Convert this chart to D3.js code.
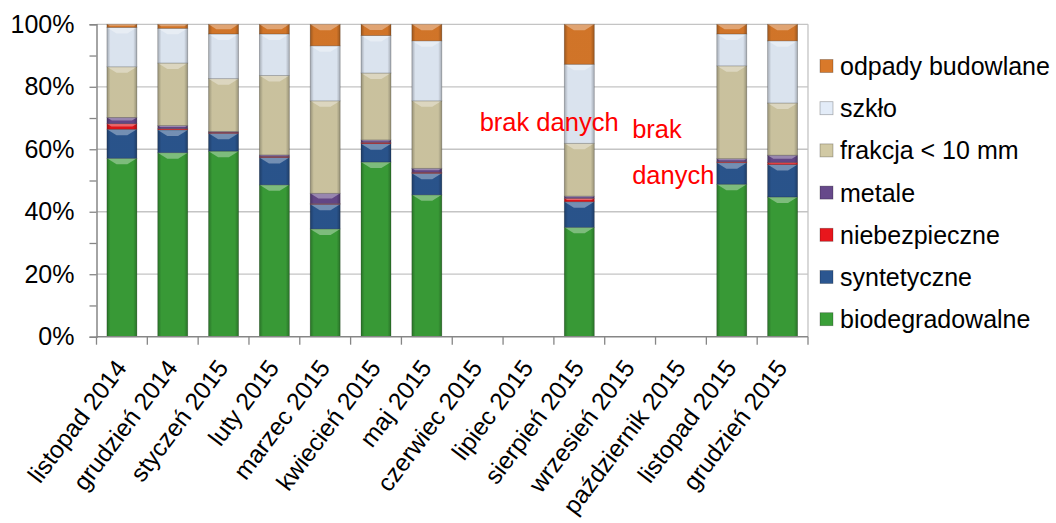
<!DOCTYPE html>
<html>
<head>
<meta charset="utf-8">
<script src="https://cdn.jsdelivr.net/npm/d3@7/dist/d3.min.js"></script>
<style>
  body { margin: 0; background: #fff; }
  text { font-family: "Liberation Sans", Arial, sans-serif; }
</style>
</head>
<body>
<div id="chart-area"></div>
<script>
// categories (months)
var categories = ["listopad 2014", "grudzień 2014", "styczeń 2015", "luty 2015", "marzec 2015",
  "kwiecień 2015", "maj 2015", "czerwiec 2015", "lipiec 2015", "sierpień 2015",
  "wrzesień 2015", "październik 2015", "listopad 2015", "grudzień 2015"];

// shares in % (null = brak danych)
var biodegradowalne = [57.1, 58.9, 59.4, 48.6, 34.5, 55.9, 45.4, null, null, 35.0, null, null, 48.8, 44.7];
var syntetyczne     = [9.3, 7.3, 5.7, 8.8, 7.9, 5.9, 6.9, null, null, 8.2, null, null, 6.9, 10.4];
var niebezpieczne   = [1.8, 0.4, 0.3, 0.3, 0.2, 0.4, 0.3, null, null, 1.1, null, null, 0.3, 0.7];
var metale          = [2.0, 1.0, 0.3, 0.5, 3.3, 0.8, 1.3, null, null, 0.7, null, null, 1.0, 2.3];
var frakcja         = [16.2, 20.0, 16.9, 25.4, 29.6, 21.4, 21.6, null, null, 16.9, null, null, 29.7, 16.7];
var szklo           = [12.6, 11.1, 14.3, 13.3, 17.6, 12.0, 19.2, null, null, 25.3, null, null, 10.2, 19.9];
var odpady          = [1.0, 1.3, 3.1, 3.1, 6.9, 3.6, 5.3, null, null, 12.8, null, null, 3.1, 5.3];

var seriesNames = ["biodegradowalne", "syntetyczne", "niebezpieczne", "metale", "frakcja < 10 mm", "szkło", "odpady budowlane"];
var seriesValues = [biodegradowalne, syntetyczne, niebezpieczne, metale, frakcja, szklo, odpady];
var seriesColors = ["#3a9f38", "#2b5690", "#e8161c", "#66498a", "#d1c9a4", "#e3ecf8", "#d9792a"];

var yTicks = [0, 0.2, 0.4, 0.6, 0.8, 1];

// annotation for missing months
var notes = [
  { cat: "czerwiec 2015", lines: ["brak danych"], at: 0.658 },
  { cat: "wrzesień 2015", lines: ["brak", "danych"], at: 0.636 }
];

var svgW = 1056, svgH = 523;
var margin = { left: 96.5, top: 24.3, right: 248, bottom: 186.3 };
var width = svgW - margin.left - margin.right;
var height = svgH - margin.top - margin.bottom;

var rows = categories.map(function(c, i) {
  var r = { cat: c };
  seriesNames.forEach(function(s, j) { r[s] = seriesValues[j][i] || 0; });
  return r;
});

var stack = d3.stack().keys(seriesNames).offset(d3.stackOffsetExpand);
var stacked = stack(rows);

var svg = d3.select("#chart-area").append("svg")
  .attr("width", svgW)
  .attr("height", svgH);

var defs = svg.append("defs");
// darker edges for a bevel look
var edge = defs.append("linearGradient").attr("id", "edge")
  .attr("x1", 0).attr("x2", 1).attr("y1", 0).attr("y2", 0);
edge.append("stop").attr("offset", 0).attr("stop-color", "#000").attr("stop-opacity", 0.28);
edge.append("stop").attr("offset", 0.12).attr("stop-color", "#000").attr("stop-opacity", 0.04);
edge.append("stop").attr("offset", 0.88).attr("stop-color", "#000").attr("stop-opacity", 0.04);
edge.append("stop").attr("offset", 1).attr("stop-color", "#000").attr("stop-opacity", 0.28);

var g = svg.append("g")
  .attr("transform", "translate(" + margin.left + "," + margin.top + ")");

var x = d3.scaleBand()
  .domain(categories)
  .range([0, width])
  .paddingInner(0.41)
  .paddingOuter(0.205);

var y = d3.scaleLinear().domain([0, 1]).range([height, 0]);

// gridlines + plot border
g.selectAll(".grid").data(yTicks.slice(1))
  .enter().append("line")
  .attr("x1", 0).attr("x2", width)
  .attr("y1", function(d) { return y(d); })
  .attr("y2", function(d) { return y(d); })
  .attr("stroke", "#c4c4c4").attr("stroke-width", 1.3);
g.append("line")
  .attr("x1", width).attr("x2", width).attr("y1", 0).attr("y2", height)
  .attr("stroke", "#c4c4c4").attr("stroke-width", 1.3);

// bars
var layer = g.selectAll(".layer").data(stacked)
  .enter().append("g")
  .attr("class", "layer")
  .attr("fill", function(d, i) { return seriesColors[i]; });

var seg = layer.selectAll("g.seg")
  .data(function(d) { return d.filter(function(p) { return p[1] - p[0] > 0; }); })
  .enter().append("g").attr("class", "seg");

seg.append("rect")
  .attr("x", function(d) { return x(d.data.cat); })
  .attr("y", function(d) { return y(d[1]); })
  .attr("width", x.bandwidth())
  .attr("height", function(d) { return y(d[0]) - y(d[1]); });

seg.append("rect")
  .attr("x", function(d) { return x(d.data.cat); })
  .attr("y", function(d) { return y(d[1]); })
  .attr("width", x.bandwidth())
  .attr("height", function(d) { return y(d[0]) - y(d[1]); })
  .attr("fill", "url(#edge)")
  .attr("stroke", "rgba(0,0,0,0.25)")
  .attr("stroke-width", 0.8);

// top highlight wedge
seg.append("path")
  .attr("d", function(d) {
    var h = y(d[0]) - y(d[1]);
    var b = Math.min(6, h / 2);
    var x0 = x(d.data.cat), x1 = x0 + x.bandwidth(), t = y(d[1]);
    return "M" + x0 + "," + t + "L" + x1 + "," + t +
      "L" + (x1 - b * 1.6) + "," + (t + b) + "L" + (x0 + b * 1.6) + "," + (t + b) + "Z";
  })
  .attr("fill", "#fff").attr("fill-opacity", 0.35);

// axes
var yAxisCall = d3.axisLeft(y)
  .tickValues(d3.range(0, 1.01, 0.1))
  .tickSize(7)
  .tickFormat(function(d) {
    var p = Math.round(d * 100);
    return p % 20 === 0 ? p + "%" : "";
  });
var yAxisGroup = g.append("g").call(yAxisCall);
yAxisGroup.select(".domain").attr("stroke", "#868686").attr("stroke-width", 1.5);
yAxisGroup.selectAll(".tick line").attr("stroke", "#868686").attr("stroke-width", 1.3);
yAxisGroup.selectAll(".tick text")
  .attr("x", -22)
  .attr("font-size", "25px")
  .attr("fill", "#000")
  .style("font-family", "'Liberation Sans', Arial, sans-serif");

var xAxisGroup = g.append("g").attr("transform", "translate(0," + height + ")");
xAxisGroup.append("line")
  .attr("x1", 0).attr("x2", width)
  .attr("stroke", "#868686").attr("stroke-width", 1.5);
xAxisGroup.selectAll(".xt").data(d3.range(categories.length + 1))
  .enter().append("line")
  .attr("x1", function(i) { return i * x.step(); })
  .attr("x2", function(i) { return i * x.step(); })
  .attr("y1", 0).attr("y2", 8)
  .attr("stroke", "#868686").attr("stroke-width", 1.3);

xAxisGroup.selectAll(".xl").data(categories)
  .enter().append("text")
  .attr("transform", function(d) {
    return "translate(" + (x(d) + x.bandwidth() / 2 - 8) + ",21) rotate(-53)";
  })
  .attr("text-anchor", "end")
  .attr("dy", "0.71em")
  .attr("font-size", "24.5px")
  .attr("fill", "#000")
  .text(function(d) { return d; });

// "brak danych" notes
notes.forEach(function(n) {
  var t = g.append("text")
    .attr("x", x(n.cat) + x.bandwidth() / 2 + 2)
    .attr("y", y(n.at))
    .attr("font-size", "25.5px")
    .attr("fill", "#ff0000");
  n.lines.forEach(function(l, i) {
    t.append("tspan")
      .attr("x", x(n.cat) + x.bandwidth() / 2 + 2)
      .attr("dy", i === 0 ? 0 : 46)
      .text(l);
  });
});

// legend
var legendNames = seriesNames.slice().reverse();
var legendColors = seriesColors.slice().reverse();
var legend = svg.append("g").attr("transform", "translate(820,66)");
var item = legend.selectAll(".item").data(legendNames)
  .enter().append("g")
  .attr("transform", function(d, i) { return "translate(0," + (i * 42.2) + ")"; });
item.append("rect")
  .attr("x", 0).attr("y", -6.5)
  .attr("width", 13).attr("height", 13)
  .attr("fill", function(d, i) { return legendColors[i]; })
  .attr("stroke", "rgba(0,0,0,0.3)").attr("stroke-width", 0.8);
item.append("text")
  .attr("x", 20).attr("y", 9)
  .attr("font-size", "25px")
  .attr("fill", "#000")
  .text(function(d) { return d; });
</script>
</body>
</html>
